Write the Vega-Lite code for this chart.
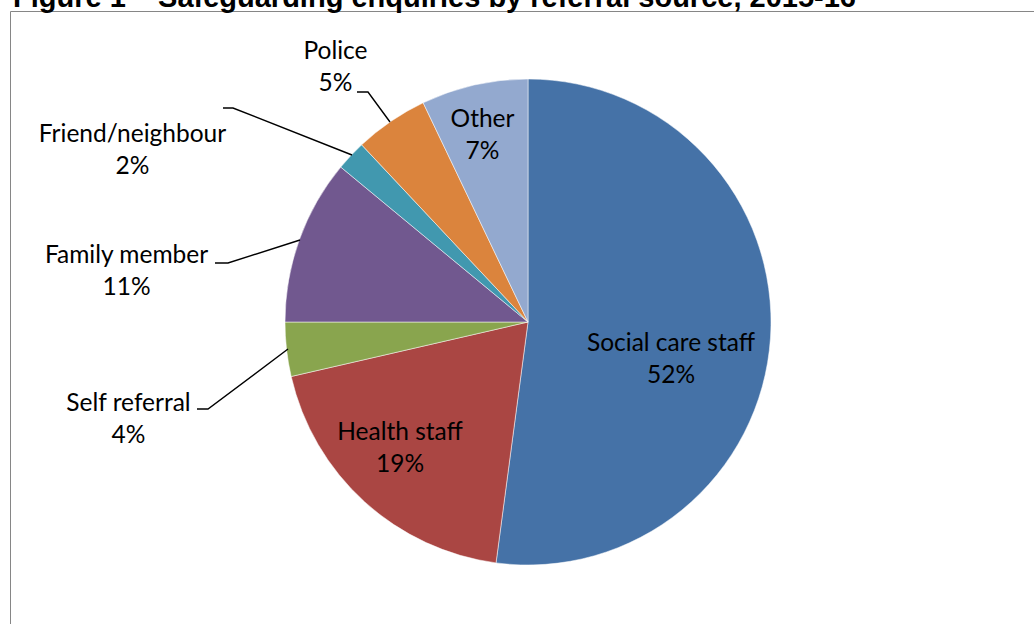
{
  "$schema": "https://vega.github.io/schema/vega-lite/v6.json",
  "width": 1024,
  "height": 613,
  "autosize": {"type": "none"},
  "padding": {"left": 10, "top": 11, "right": 0, "bottom": 0},
  "background": "#ffffff",
  "title": {
    "text": "Figure 1 – Safeguarding enquiries by referral source, 2015-16",
    "anchor": "start",
    "font": "Liberation Sans",
    "fontSize": 29,
    "fontWeight": "bold",
    "color": "#000000",
    "baseline": "alphabetic",
    "offset": -1,
    "dx": 3,
    "dy": 24
  },
  "config": {
    "view": {"stroke": null},
    "axis": {"domain": true, "domainColor": "#868686", "domainWidth": 1, "ticks": false, "labels": false, "grid": false, "title": null}
  },
  "datasets": {
    "slices": [
      {"idx": 1, "source": "Social care staff", "pct": 52.1, "text": "Social care staff\n52%", "lx": 143, "ly": -29},
      {"idx": 2, "source": "Health staff", "pct": 19.3, "text": "Health staff\n19%", "lx": -128, "ly": -118},
      {"idx": 3, "source": "Self referral", "pct": 3.6, "text": "Self referral\n4%", "lx": -399.5, "ly": -89},
      {"idx": 4, "source": "Family member", "pct": 11.0, "text": "Family member\n11%", "lx": -401.5, "ly": 59},
      {"idx": 5, "source": "Friend/neighbour", "pct": 2.0, "text": "Friend/neighbour\n2%", "lx": -395.5, "ly": 180},
      {"idx": 6, "source": "Police", "pct": 4.9, "text": "Police\n5%", "lx": -192.5, "ly": 263},
      {"idx": 7, "source": "Other", "pct": 7.1, "text": "Other\n7%", "lx": -45.5, "ly": 195}
    ],
    "leaders": [
      {"source": "Police", "k": 1, "x": -171, "y": 230},
      {"source": "Police", "k": 2, "x": -160, "y": 230},
      {"source": "Police", "k": 3, "x": -138, "y": 200},
      {"source": "Friend/neighbour", "k": 1, "x": -305, "y": 214},
      {"source": "Friend/neighbour", "k": 2, "x": -295, "y": 214},
      {"source": "Friend/neighbour", "k": 3, "x": -176, "y": 167},
      {"source": "Family member", "k": 1, "x": -313, "y": 59},
      {"source": "Family member", "k": 2, "x": -300, "y": 59},
      {"source": "Family member", "k": 3, "x": -228, "y": 82},
      {"source": "Self referral", "k": 1, "x": -331, "y": -87},
      {"source": "Self referral", "k": 2, "x": -320, "y": -87},
      {"source": "Self referral", "k": 3, "x": -240, "y": -27}
    ]
  },
  "layer": [
    {
      "data": {"name": "slices"},
      "mark": {"type": "arc", "outerRadius": 243, "stroke": "#ffffff", "strokeWidth": 0.5},
      "encoding": {
        "theta": {"field": "pct", "type": "quantitative", "stack": true},
        "order": {"field": "idx", "type": "quantitative", "sort": "ascending"},
        "color": {
          "field": "source",
          "type": "nominal",
          "sort": null,
          "legend": null,
          "scale": {
            "domain": ["Social care staff", "Health staff", "Self referral", "Family member", "Friend/neighbour", "Police", "Other"],
            "range": ["#4572A7", "#AA4643", "#89A54E", "#71588F", "#4198AF", "#DB843D", "#93A9CF"]
          }
        },
        "x": {"datum": 0, "type": "quantitative", "scale": {"domain": [-518, 506], "nice": false, "zero": false}, "axis": {"orient": "top"}},
        "y": {"datum": 0, "type": "quantitative", "scale": {"domain": [-302, 311], "nice": false, "zero": false}, "axis": {"orient": "left"}}
      }
    },
    {
      "data": {"name": "leaders"},
      "mark": {"type": "line", "color": "#000000", "strokeWidth": 1.4},
      "encoding": {
        "x": {"field": "x", "type": "quantitative"},
        "y": {"field": "y", "type": "quantitative"},
        "detail": {"field": "source", "type": "nominal"},
        "order": {"field": "k", "type": "quantitative"}
      }
    },
    {
      "data": {"name": "slices"},
      "mark": {"type": "text", "align": "center", "baseline": "alphabetic", "font": "Lato", "fontSize": 24.5, "lineBreak": "\n", "lineHeight": 32, "color": "#000000"},
      "encoding": {
        "x": {"field": "lx", "type": "quantitative"},
        "y": {"field": "ly", "type": "quantitative"},
        "text": {"field": "text", "type": "nominal"}
      }
    }
  ]
}
